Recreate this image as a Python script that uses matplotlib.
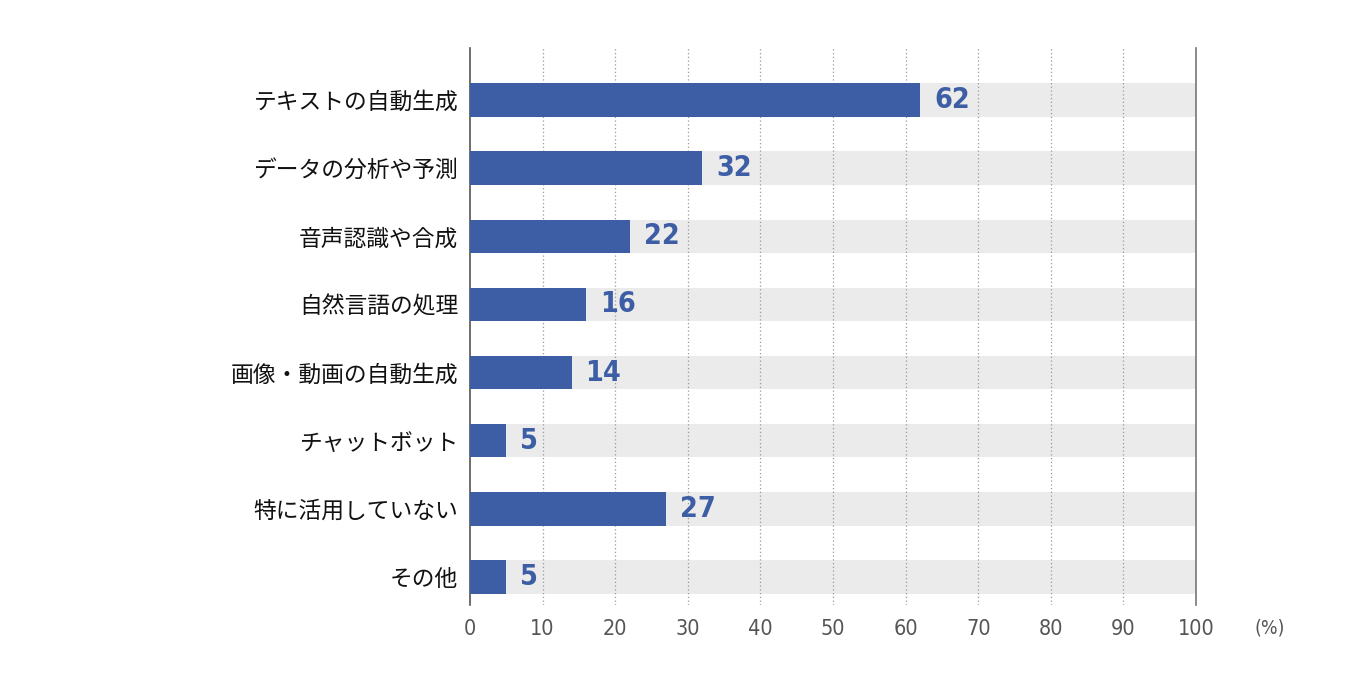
import matplotlib
matplotlib.use("Agg")
import matplotlib.pyplot as plt

plt.rcParams['font.family'] = ['Noto Sans CJK JP', 'DejaVu Sans']

# データ
categories = ['テキストの自動生成', 'データの分析や予測', '音声認識や合成', '自然言語の処理',
              '画像・動画の自動生成', 'チャットボット', '特に活用していない', 'その他']
values = [62, 32, 22, 16, 14, 5, 27, 5]
xticks = [0, 10, 20, 30, 40, 50, 60, 70, 80, 90, 100]

blue = '#3d5ea5'
bg_gray = '#ebebeb'

fig = plt.figure(figsize=(13.46, 6.85), dpi=100)
ax = fig.add_axes([0.3492, 0.1168, 0.5394, 0.8132])

ypos = list(range(len(categories)))
ax.barh(ypos, [100] * len(values), height=0.49, color=bg_gray, zorder=1)
ax.barh(ypos, values, height=0.49, color=blue, zorder=3)

for y, v in zip(ypos, values):
    ax.text(v + 1.9, y, str(v), va='center', ha='left', color=blue,
            fontsize=20.5, fontweight='bold', family='DejaVu Sans', stretch='condensed',
            zorder=4)

ax.set_xlim(0, 100)
ax.set_ylim(7.41, -0.763)

# 点線グリッド
for x in xticks[1:-1]:
    ax.axvline(x, color='#999999', lw=0.9, ls=(0, (1, 2)), zorder=2)

ax.set_yticks(ypos)
ax.set_yticklabels(categories, fontsize=16.4, color='#111111')
ax.set_xticks(xticks)
ax.set_xticklabels([str(t) for t in xticks], fontsize=15.5, color='#555555',
                   family='DejaVu Sans', stretch='condensed')
ax.tick_params(axis='both', length=0)
ax.tick_params(axis='y', pad=8.5)
ax.tick_params(axis='x', pad=10)

for s in ['top', 'bottom']:
    ax.spines[s].set_visible(False)
ax.spines['left'].set_color('#555555')
ax.spines['right'].set_color('#777777')
ax.spines['left'].set_linewidth(1.2)
ax.spines['right'].set_linewidth(1.2)

fig.text(1270 / 1346, 1 - 628 / 685, '(%)', fontsize=14, color='#555555',
         ha='center', va='center', family='DejaVu Sans', stretch='condensed')

fig.savefig('out.png', dpi=100)
